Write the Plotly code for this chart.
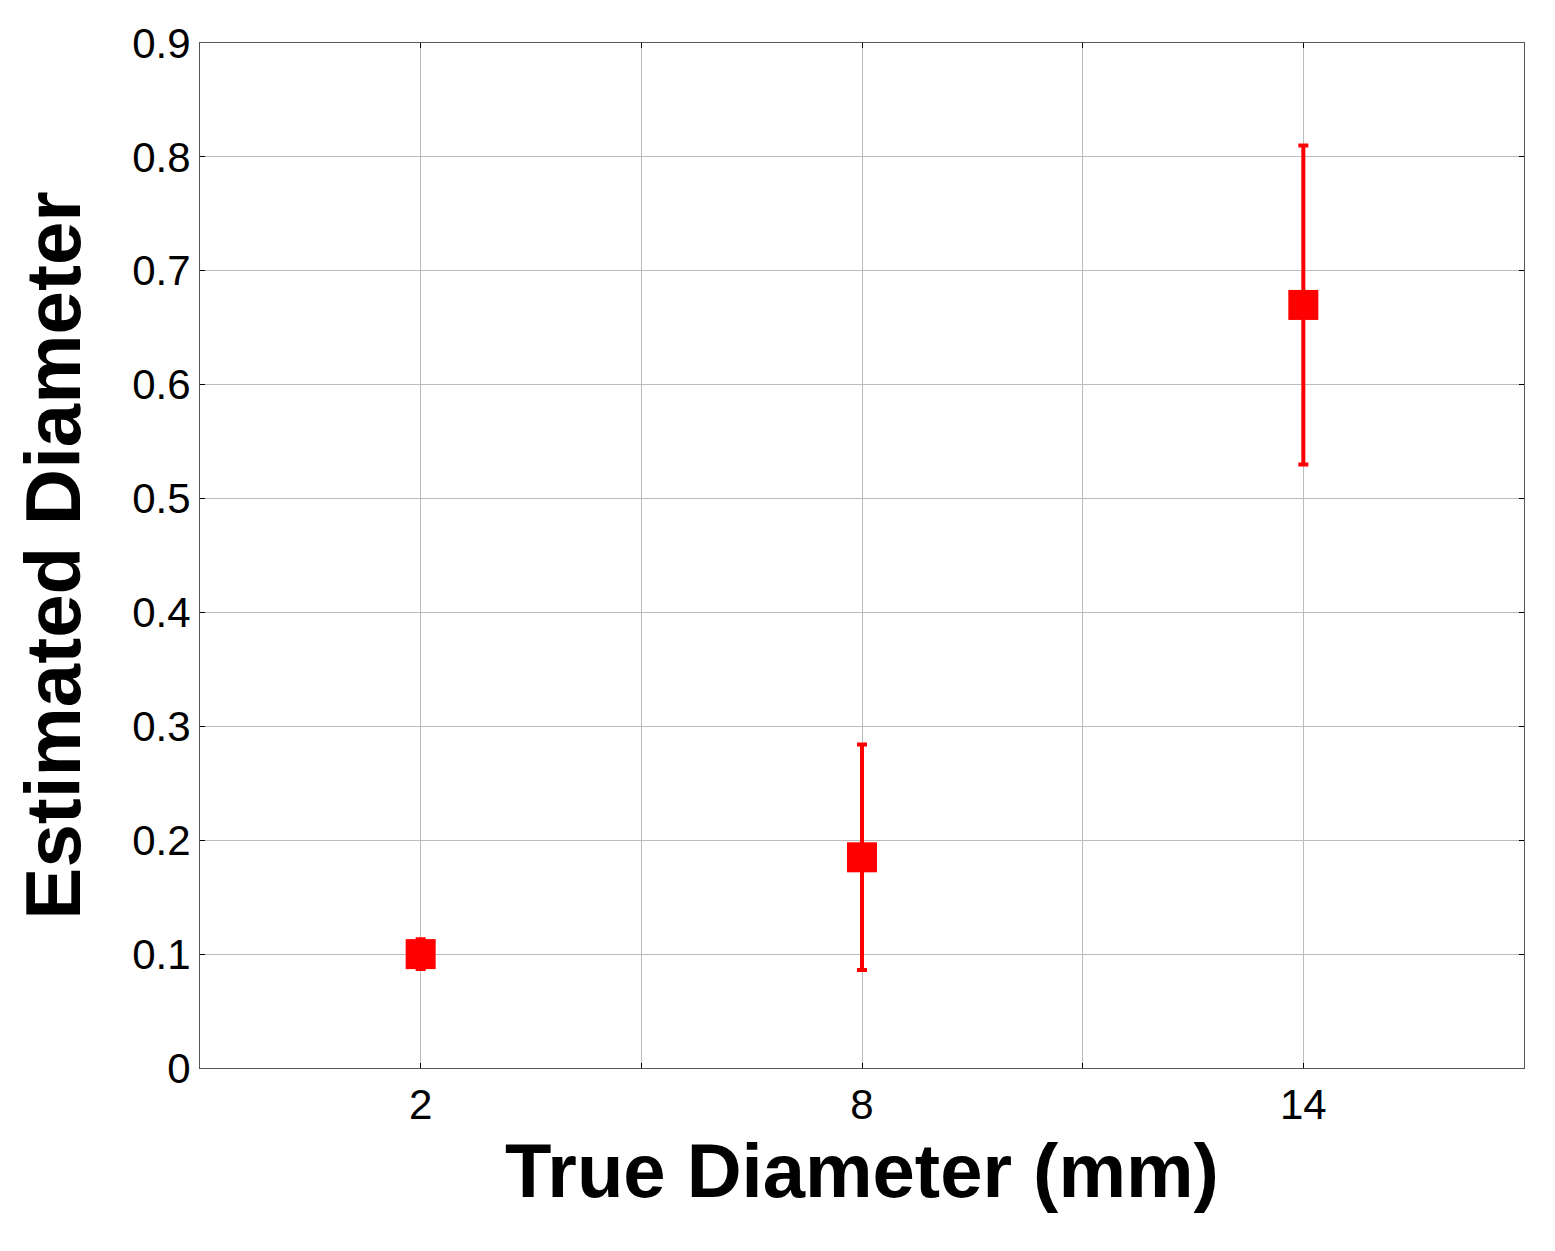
import plotly.graph_objects as go

# ---------- DATA ----------
x_pos = [1, 3, 5]
x_labels = ["2", "8", "14"]
est_diam = [0.100, 0.185, 0.670]
err = [0.013, 0.099, 0.140]

fig = go.Figure()
fig.add_trace(go.Scatter(
    x=x_pos, y=est_diam, mode="markers",
    marker=dict(symbol="square", size=30, color="red"),
    error_y=dict(type="data", array=err, color="red", thickness=4, width=5),
    showlegend=False,
))

axis_common = dict(
    showline=True, mirror="ticks", linecolor="#555", linewidth=1,
    showgrid=True, gridcolor="#bbb", gridwidth=1,
    ticks="inside", ticklen=5, tickcolor="black",
    tickfont=dict(family="Liberation Sans", size=42, color="black"),
    zeroline=False,
)
fig.update_xaxes(
    range=[0, 6], tickvals=[1, 2, 3, 4, 5],
    ticktext=[x_labels[0], "", x_labels[1], "", x_labels[2]],
    title=dict(text="<b>True Diameter (mm)</b>",
               font=dict(family="Liberation Sans", size=76, color="black"), standoff=15),
    **axis_common,
)
fig.update_yaxes(
    range=[0, 0.9], dtick=0.1, tickformat=".1~f",
    title=dict(text="<b>Estimated Diameter</b>",
               font=dict(family="Liberation Sans", size=78, color="black"), standoff=25),
    **axis_common,
)
fig.update_layout(
    width=1555, height=1251,
    margin=dict(l=192, r=39, t=35, b=191),
    plot_bgcolor="white", paper_bgcolor="white",
)
fig.write_html("out.html")
